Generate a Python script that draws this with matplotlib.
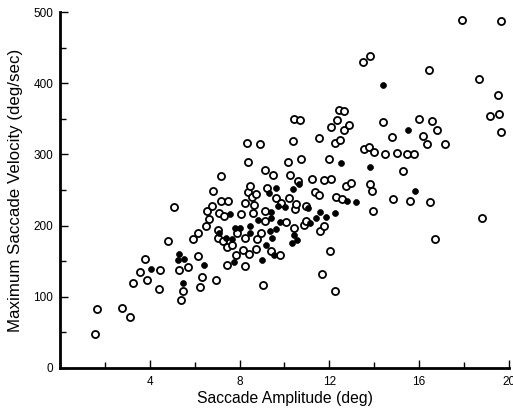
import matplotlib
matplotlib.use("Agg")
import matplotlib.pyplot as plt
from matplotlib.ticker import MultipleLocator

open_amp = [1.58, 1.66, 2.74, 3.14, 3.26, 3.56, 3.80, 3.87, 4.40, 4.47, 4.80, 5.10, 5.30, 5.39, 5.48,
            5.72, 5.91, 6.15, 6.15, 6.24, 6.31, 6.52, 6.56, 6.64, 6.77, 6.80, 6.93, 7.05, 7.05, 7.08,
            7.17, 7.17, 7.26, 7.30, 7.42, 7.42, 7.48, 7.67, 7.83, 7.89, 8.06, 8.14, 8.22, 8.23, 8.25,
            8.35, 8.39, 8.38, 8.44, 8.45, 8.56, 8.58, 8.63, 8.71, 8.75, 8.79, 8.93, 8.97, 9.03, 9.12,
            9.14, 9.15, 9.24, 9.42, 9.48, 9.64, 9.82, 9.86, 10.08, 10.14, 10.19, 10.26, 10.36, 10.42,
            10.44, 10.45, 10.51, 10.60, 10.70, 10.72, 10.87, 10.95, 10.98, 11.23, 11.37, 11.53, 11.56,
            11.59, 11.69, 11.78, 11.78, 11.99, 12.03, 12.06, 12.09, 12.24, 12.25, 12.30, 12.33, 12.45,
            12.49, 12.58, 12.67, 12.67, 12.75, 12.88, 12.97, 13.51, 13.53, 13.78, 13.79, 13.79, 13.88,
            13.93, 13.97, 14.39, 14.48, 14.77, 14.83, 15.02, 15.27, 15.47, 15.61, 15.76, 16.00, 16.16,
            16.34, 16.43, 16.50, 16.58, 16.72, 16.80, 17.14, 17.92, 18.68, 18.81, 19.16, 19.52, 19.58,
            19.64, 19.65]
open_vel = [47, 82, 84, 71, 119, 135, 153, 124, 111, 137, 178, 226, 137, 95, 108,
            141, 181, 189, 157, 114, 127, 199, 220, 209, 227, 249, 124, 194, 182, 218,
            269, 234, 178, 214, 170, 144, 235, 173, 159, 190, 216, 165, 182, 143, 232,
            316, 289, 247, 160, 255, 240, 218, 229, 167, 245, 181, 315, 189, 117, 278,
            207, 221, 253, 164, 271, 239, 158, 232, 205, 289, 239, 271, 319, 350,
            196, 223, 230, 263, 348, 293, 201, 228, 207, 265, 247, 323, 243,
            192, 132, 199, 264, 293, 164, 265, 339, 316, 108, 240, 348, 362,
            320, 237, 361, 335, 256, 341, 260, 430, 308, 311, 439, 259, 248,
            221, 303, 345, 300, 325, 237, 302, 276, 300, 235, 301, 350, 326,
            314, 419, 233, 347, 181, 334, 315, 489, 406, 210, 354, 383, 357,
            488, 331]

filled_amp = [4.04, 5.24, 5.30, 5.47, 5.54, 6.41, 7.10, 7.39, 7.57, 7.67, 7.77, 7.80, 8.04, 8.47,
              8.48, 8.81, 9.00, 9.16, 9.33, 9.34, 9.42, 9.42, 9.43, 9.54, 9.64, 9.62, 9.70, 9.80,
              10.01, 10.35, 10.38, 10.41, 10.57, 10.66, 11.05, 11.16, 11.41, 11.59, 11.83, 12.25,
              12.52, 12.77, 13.20, 13.81, 14.37, 15.52, 15.82]
filled_vel = [139, 151, 160, 119, 153, 144, 189, 182, 216, 181, 148, 197, 196, 199,
              189, 208, 151, 173, 246, 192, 219, 211, 183, 158, 253, 195, 227, 205,
              226, 176, 252, 186, 180, 258, 224, 204, 210, 219, 212, 217,
              288, 235, 233, 283, 397, 334, 249]

x_ticks = [4, 8, 12, 16, 20]
y_ticks = [0, 100, 200, 300, 400, 500]

fig = plt.figure(figsize=(5.13, 4.09), dpi=100)
ax = fig.add_axes([0.117, 0.101, 0.875, 0.869])

ax.scatter(open_amp, open_vel, s=26, facecolors="white", edgecolors="black", linewidths=1.3, zorder=3, clip_on=False)
ax.scatter(filled_amp, filled_vel, s=18, facecolors="black", edgecolors="black", linewidths=0.5, zorder=4, clip_on=False)

ax.set_xlim(0, 20)
ax.set_ylim(0, 500)
ax.set_xticks(x_ticks)
ax.set_yticks(y_ticks)
ax.xaxis.set_minor_locator(MultipleLocator(2))
ax.yaxis.set_minor_locator(MultipleLocator(50))
ax.tick_params(which="both", direction="in", width=1, colors="black", labelsize=8.5)
ax.tick_params(which="major", length=5.5)
ax.tick_params(which="minor", length=4.5)
ax.tick_params(axis="x", pad=6)
ax.tick_params(axis="y", pad=5)
for s in ["top", "right"]:
    ax.spines[s].set_visible(False)
for s in ["left", "bottom"]:
    ax.spines[s].set_linewidth(2)

ax.set_xlabel("Saccade Amplitude (deg)", fontsize=11.3, family="Liberation Sans", labelpad=2)
ax.set_ylabel("Maximum Saccade Velocity (deg/sec)", fontsize=12.2, family="Liberation Sans", labelpad=7)
for lab in ax.get_xticklabels() + ax.get_yticklabels():
    lab.set_family("Liberation Sans")

fig.savefig("out.png", dpi=100)
